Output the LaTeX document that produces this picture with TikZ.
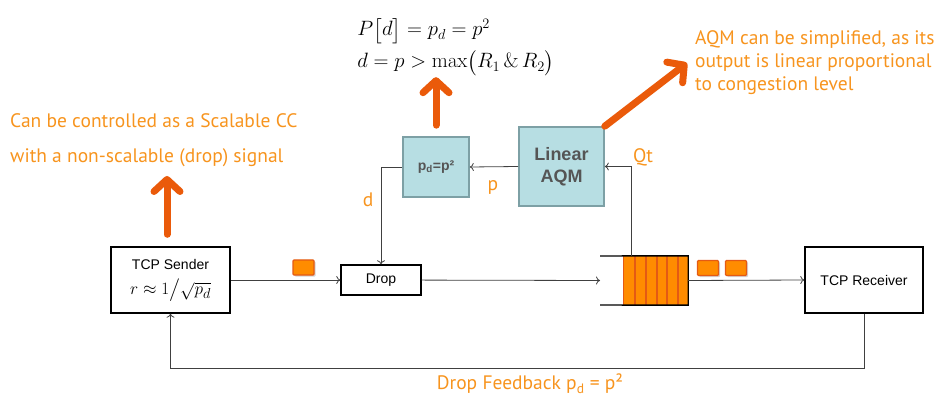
\documentclass[tikz,border=0pt]{standalone}
\usepackage{amsmath,amssymb}
\usepackage[no-math]{fontspec}
\setmainfont{Liberation Sans}
\newfontfamily\notefont{PT Sans}
\usepackage{tikz}
\usetikzlibrary{arrows.meta, shadows}
\definecolor{myorange}{RGB}{247, 148, 30}
\definecolor{bigorange}{RGB}{234, 90, 10}
\definecolor{pkfill}{RGB}{255, 140, 0}
\definecolor{pkdraw}{RGB}{228, 90, 20}
\definecolor{aqmfill}{RGB}{183, 222, 227}
\definecolor{aqmdraw}{RGB}{125, 160, 165}
\definecolor{mygray1}{RGB}{64, 64, 64}
\definecolor{mygray2}{RGB}{85, 85, 85}
\tikzset{
  flow/.style = {draw = mygray1, line width = 0.8pt, -{To[length=4pt, width=8pt]}},
  blockbox/.style = {draw = black, line width = 1.4pt, fill = white, inner sep = 0pt, align = center, font = \fontsize{14}{17}\selectfont},
  tealbox/.style = {draw = aqmdraw, line width = 1.6pt, fill = aqmfill, inner sep = 0pt, align = center, text = mygray2},
  pk/.style = {draw = pkdraw, line width = 1.2pt, fill = pkfill, rounded corners = 1pt, minimum width = 21pt, minimum height = 15pt, inner sep = 0pt,
    drop shadow = {shadow xshift = 1.5pt, shadow yshift = -1.5pt, opacity = 0.35}},
  note/.style = {text = myorange, inner sep = 0pt, font = \notefont\fontsize{19.5}{23}\selectfont},
  bigarrow/.style = {draw = bigorange, line width = 7pt, line cap = round, -{Straight Barb[length = 12pt, width = 26pt, round]}}
}

\begin{document}
\begin{tikzpicture}[x = 1pt, y = -1pt]
\useasboundingbox (0, 0) rectangle (947, 403);

% main blocks
\node [blockbox, minimum width = 119pt, minimum height = 66pt] (sender) at (170.5, 280) {TCP Sender\\[8pt] {\fontsize{19}{20}\selectfont $r \approx 1\big/\sqrt{p_d}$}};
\node [blockbox, minimum width = 80pt, minimum height = 30pt] (drop) at (381, 280) {Drop};
\node [blockbox, minimum width = 118pt, minimum height = 66pt] (receiver) at (864, 280) {TCP Receiver};
\node [tealbox, minimum width = 85pt, minimum height = 79pt, font = \bfseries\fontsize{18}{22}\selectfont] (aqm) at (561.5, 166.5) {Linear\\AQM};
\node [tealbox, minimum width = 66pt, minimum height = 60pt, font = \bfseries\fontsize{14}{17}\selectfont] (sq) at (436, 167) {p\textsubscript{d}=p²};

% queue
\node [fill = pkfill, minimum width = 64pt, minimum height = 49pt, inner sep = 0pt] (queue) at (656, 280.5) {};
\foreach \x in {635, 646, 657, 667, 678}
  \draw [pkdraw, line width = 1.2pt] (\x, 256) -- (\x, 305);
\draw [pkdraw, line width = 1.2pt] (queue.north west) -- (queue.south west);
\draw [black, line width = 1.4pt] (600, 256) -- (queue.north east) -- (queue.south east) -- (600, 305);
\coordinate (qin) at (600, 280.5);
\coordinate (qtap) at (631, 256);
\coordinate (fb) at (0, 368);

% packets
\node [pk] (pk1) at (303.5, 267.5) {};
\node [pk] (pk2) at (708, 268) {};
\node [pk] (pk3) at (736, 268) {};

% connectors
\draw [flow] (sender) -- (drop);
\draw [flow] (drop) -- (qin);
\draw [flow] (queue.east) -- (receiver.west);
\draw [flow] (receiver.south) |- (sender.south |- fb) -- (sender.south);
\draw [flow] (qtap) |- (aqm.east);
\draw [flow] (aqm.west) -- (sq.east);
\draw [flow] (sq.west) -| (drop.north);

% labels
\node [note] (plabel) at (493, 187) {p};
\node [note] (dlabel) at (368, 200) {d};
\node [note] (qtlabel) at (643, 157) {Qt};
\node [note] (fblabel) at (530, 384) {Drop Feedback p\textsubscript{d} = p²};

% annotations
\node [inner sep = 0pt, font = \fontsize{21}{30}\selectfont] (formula) at (456, 46)
  {$\begin{array}{@{}l@{}} P\bigl[d\bigr] = p_d = p^2 \\[2pt] d = p > \max\bigl(R_1 \,\&\, R_2\bigr) \end{array}$};
\node [note, align = left, anchor = west, font = \notefont\fontsize{19.5}{35}\selectfont] (ltext) at (10, 140.5)
  {Can be controlled as a Scalable CC\\with a non-scalable (drop) signal};
\node [note, align = left, anchor = west] (rtext) at (695, 63)
  {AQM can be simplified, as its\\output is linear proportional\\to congestion level};
\draw [bigarrow] ([yshift = 12pt] sender.north -| 167, 0) -- (167, 176);
\draw [bigarrow] ([yshift = 11pt] sq.north) -- (sq.north |- formula.south);
\draw [bigarrow] (aqm.north east) -- ([xshift = -8pt] rtext.west);
\end{tikzpicture}
\end{document}
